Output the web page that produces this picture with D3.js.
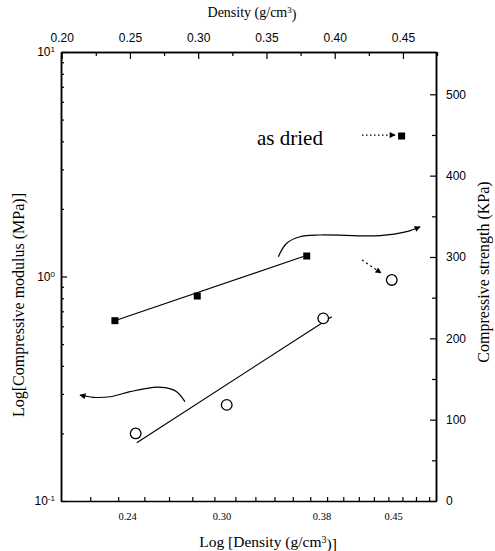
<!DOCTYPE html>
<html>
<head>
<meta charset="utf-8">
<script src="https://cdn.jsdelivr.net/npm/d3@7"></script>
<style>
  body { margin: 0; background: #fff; }
  svg { display: block; }
  .axis path, .axis line { stroke: #000; }
  .tick text { fill: #000; }
</style>
</head>
<body>
<div id="chart"></div>
<script>
// --- data ---
// as dried (filled squares), compressive strength on the right axis
const squareDensity = [0.239, 0.2993, 0.3795, 0.449];
const squareStrength = [221.7, 252, 301.2, 448.7];
// open circles, compressive modulus on the left (log) axis
const circleDensity = [0.2542, 0.3209, 0.3916, 0.4418];
const circleModulus = [0.200, 0.268, 0.651, 0.965];

// fitted lines (end points)
const squareFitDensity = [0.2383, 0.3770];
const squareFitStrength = [221.3, 300.6];
const circleFitDensity = [0.2550, 0.3978];
const circleFitModulus = [0.1819, 0.6623];

// tick labels
const topTicks = [0.20, 0.25, 0.30, 0.35, 0.40, 0.45];
const topMinor = [0.225, 0.275, 0.325, 0.375, 0.425, 0.475];
const bottomLabels = [0.24, 0.30, 0.38, 0.45];
const bottomMinor = [0.22, 0.235, 0.25, 0.265, 0.28, 0.295, 0.31, 0.325, 0.34, 0.355,
  0.37, 0.385, 0.40, 0.415, 0.43, 0.445, 0.46, 0.475, 0.49];
const leftTicks = [0.1, 1, 10];
const leftExp = ['-1', '0', '1'];
const leftMinor = [0.2, 0.3, 0.4, 0.5, 0.6, 0.7, 0.8, 0.9, 2, 3, 4, 5, 6, 7, 8, 9];
const rightTicks = [0, 100, 200, 300, 400, 500];
const rightMinor = [50, 150, 250, 350, 450];

// annotation arrows, in (density, strength) units
const upperArrowDensity = [0.3587, 0.3648, 0.3746, 0.3892, 0.4332, 0.4527, 0.4625];
const upperArrowStrength = [300.3, 316.8, 324.9, 327.0, 326.2, 331.1, 337.2];
const lowerArrowDensity = [0.2903, 0.2842, 0.2757, 0.2671, 0.2500, 0.2354, 0.2232, 0.2134];
const lowerArrowStrength = [122.1, 134.4, 139.3, 139.8, 134.4, 128.2, 127.5, 130.3];

// chart dimensions
const width = 495, height = 551;
const margin = { top: 52, right: 59, bottom: 50, left: 61 };

const svg = d3.select('#chart').append('svg')
  .attr('width', width)
  .attr('height', height);

const x = d3.scaleLinear().domain([0.1995, 0.4742]).range([margin.left, width - margin.right]);
const xLog = d3.scaleLog().domain([0.2053, 0.498]).range([margin.left, width - margin.right]);
const yL = d3.scaleLog().domain([0.1, 10]).range([height - margin.bottom, margin.top]);
const yR = d3.scaleLinear().domain([0, 552]).range([height - margin.bottom, margin.top]);

const sans = "'Liberation Sans', Arial, sans-serif";
const serif = "'Liberation Serif', 'Times New Roman', serif";

function styleAxis(g, font, size) {
  g.attr('class', 'axis');
  g.select('.domain').attr('stroke-width', 1.5);
  g.selectAll('.tick line').attr('stroke-width', 1.2);
  g.selectAll('.tick text').style('font-family', font).style('font-size', size + 'px');
}

// top axis (linear density)
svg.append('g')
  .attr('transform', 'translate(0,' + margin.top + ')')
  .call(d3.axisTop(x).tickValues(topTicks).tickSize(-7).tickSizeOuter(0).tickPadding(10)
    .tickFormat(d3.format('.2f')))
  .call(g => styleAxis(g, sans, 12));
svg.append('g')
  .attr('transform', 'translate(0,' + margin.top + ')')
  .call(d3.axisTop(x).tickValues(topMinor).tickSize(-4).tickSizeOuter(0).tickFormat(''))
  .call(g => styleAxis(g, sans, 12));

// bottom axis (log density)
svg.append('g')
  .attr('transform', 'translate(0,' + (height - margin.bottom) + ')')
  .call(d3.axisBottom(xLog).tickValues(bottomMinor).tickSize(-4).tickSizeOuter(0).tickFormat(''))
  .call(g => styleAxis(g, serif, 10));
svg.append('g')
  .attr('transform', 'translate(0,' + (height - margin.bottom) + ')')
  .call(d3.axisBottom(xLog).tickValues(bottomLabels).tickSize(0).tickSizeOuter(0).tickPadding(12)
    .tickFormat(d3.format('.2f')))
  .call(g => styleAxis(g, serif, 10.5))
  .call(g => g.select('.domain').remove());

// left axis (log modulus)
svg.append('g')
  .attr('transform', 'translate(' + margin.left + ',0)')
  .call(d3.axisLeft(yL).tickValues(leftMinor).tickSize(-3).tickSizeOuter(0).tickFormat(''))
  .call(g => styleAxis(g, sans, 12));
svg.append('g')
  .attr('transform', 'translate(' + margin.left + ',0)')
  .call(d3.axisLeft(yL).tickValues(leftTicks).tickSize(-6).tickSizeOuter(0).tickPadding(6))
  .call(g => styleAxis(g, sans, 12))
  .call(g => g.selectAll('.tick text').each(function (d, i) {
    const t = d3.select(this);
    t.text(null);
    t.append('tspan').text('10');
    t.append('tspan').attr('dy', '-0.5em').style('font-size', '8px').text(leftExp[i]);
  }));

// right axis (linear strength)
svg.append('g')
  .attr('transform', 'translate(' + (width - margin.right) + ',0)')
  .call(d3.axisRight(yR).tickValues(rightMinor).tickSize(-4).tickSizeOuter(0).tickFormat(''))
  .call(g => styleAxis(g, sans, 12));
svg.append('g')
  .attr('transform', 'translate(' + (width - margin.right) + ',0)')
  .call(d3.axisRight(yR).tickValues(rightTicks).tickSize(-6).tickSizeOuter(0).tickPadding(10))
  .call(g => styleAxis(g, sans, 12));

// axis titles
svg.append('text')
  .attr('x', 252).attr('y', 17)
  .attr('text-anchor', 'middle')
  .style('font-family', serif).style('font-size', '14px')
  .call(t => {
    t.append('tspan').text('Density (g/cm');
    t.append('tspan').attr('dy', '-0.45em').style('font-size', '9px').text('3');
    t.append('tspan').attr('dy', '0.45em').text(')');
  });

svg.append('text')
  .attr('x', 268).attr('y', 547)
  .attr('text-anchor', 'middle')
  .style('font-family', serif).style('font-size', '15.5px')
  .call(t => {
    t.append('tspan').text('Log [Density (g/cm');
    t.append('tspan').attr('dy', '-0.45em').style('font-size', '10px').text('3');
    t.append('tspan').attr('dy', '0.45em').text(')]');
  });

svg.append('text')
  .attr('transform', 'translate(24,' + 305 + ') rotate(-90)')
  .attr('text-anchor', 'middle')
  .style('font-family', serif).style('font-size', '16px')
  .text('Log[Compressive modulus (MPa)]');

svg.append('text')
  .attr('transform', 'translate(489,' + 272 + ') rotate(-90)')
  .attr('text-anchor', 'middle')
  .style('font-family', serif).style('font-size', '16px')
  .text('Compressive strength (KPa)');

// arrow head marker
const defs = svg.append('defs');
defs.append('marker')
  .attr('id', 'head')
  .attr('viewBox', '0 0 10 10')
  .attr('refX', 9).attr('refY', 5)
  .attr('markerWidth', 7).attr('markerHeight', 6)
  .attr('markerUnits', 'userSpaceOnUse')
  .attr('orient', 'auto')
  .append('path')
  .attr('d', 'M0,0 L10,5 L0,10 z')
  .attr('fill', '#000');

// fitted lines
const lineS = d3.line().x(i => x(squareFitDensity[i])).y(i => yR(squareFitStrength[i]));
svg.append('path')
  .attr('d', lineS([0, 1]))
  .attr('fill', 'none').attr('stroke', '#000').attr('stroke-width', 1.2);

const lineC = d3.line().x(i => x(circleFitDensity[i])).y(i => yL(circleFitModulus[i]));
svg.append('path')
  .attr('d', lineC([0, 1]))
  .attr('fill', 'none').attr('stroke', '#000').attr('stroke-width', 1.2);

// curved arrows pointing to the axis each series uses
const curve = (dens, vals) => d3.line()
  .x(i => x(dens[i])).y(i => yR(vals[i]))
  .curve(d3.curveCatmullRom)(d3.range(dens.length));

svg.append('path')
  .attr('d', curve(upperArrowDensity, upperArrowStrength))
  .attr('fill', 'none').attr('stroke', '#000').attr('stroke-width', 1.2)
  .attr('marker-end', 'url(#head)');

svg.append('path')
  .attr('d', curve(lowerArrowDensity, lowerArrowStrength))
  .attr('fill', 'none').attr('stroke', '#000').attr('stroke-width', 1.2)
  .attr('marker-end', 'url(#head)');

// dotted pointer arrows
svg.append('line')
  .attr('x1', x(0.4200)).attr('y1', yR(296.3))
  .attr('x2', x(0.4339)).attr('y2', yR(280.3))
  .attr('stroke', '#000').attr('stroke-width', 1.2).attr('stroke-dasharray', '2,3')
  .attr('marker-end', 'url(#head)');

svg.append('line')
  .attr('x1', x(0.4200)).attr('y1', yR(449.9))
  .attr('x2', x(0.4442)).attr('y2', yR(449.9))
  .attr('stroke', '#000').attr('stroke-width', 1.2).attr('stroke-dasharray', '1.5,2.5')
  .attr('marker-end', 'url(#head)');

svg.append('text')
  .attr('x', x(0.3431)).attr('y', yR(437.7))
  .style('font-family', serif).style('font-size', '21px')
  .text('as dried');

// markers
svg.selectAll('.sq')
  .data(squareDensity).enter().append('rect')
  .attr('class', 'sq')
  .attr('x', (d, i) => x(d) - 3.5)
  .attr('y', (d, i) => yR(squareStrength[i]) - 3.5)
  .attr('width', 7).attr('height', 7)
  .attr('fill', '#000');

svg.selectAll('.ci')
  .data(circleDensity).enter().append('circle')
  .attr('class', 'ci')
  .attr('cx', d => x(d))
  .attr('cy', (d, i) => yL(circleModulus[i]))
  .attr('r', 5.3)
  .attr('fill', '#fff').attr('stroke', '#000').attr('stroke-width', 1.3);
</script>
</body>
</html>
